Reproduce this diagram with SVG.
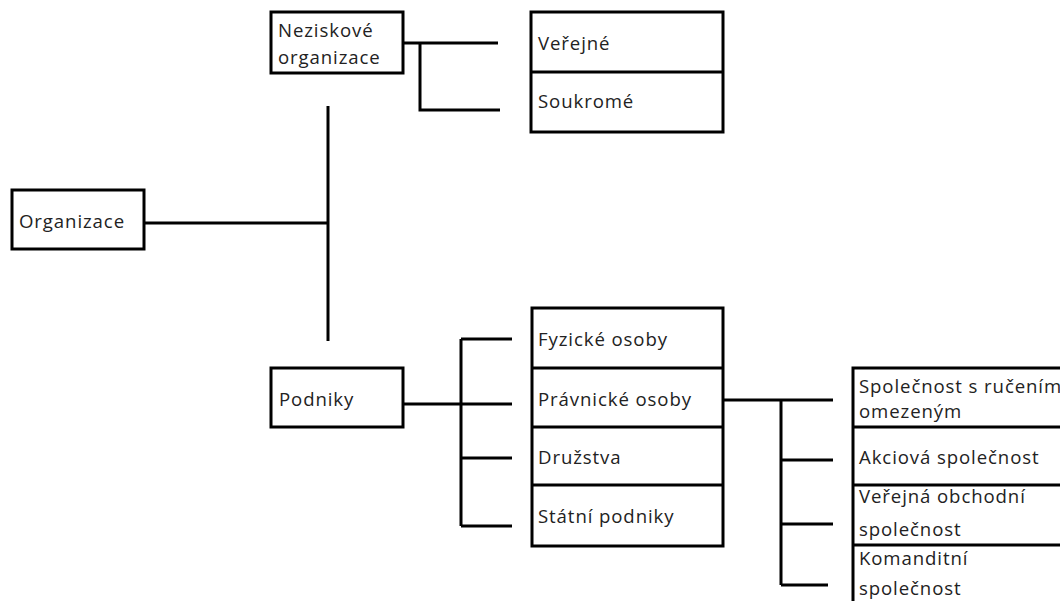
<svg xmlns="http://www.w3.org/2000/svg" width="1060" height="601" viewBox="0 0 1060 601">
<style>
.box{fill:#fff;stroke:#000;stroke-width:3}
.div{stroke:#000;stroke-width:3}
.t{font-family:"Open Sans","Liberation Sans",sans-serif;font-size:18.6px;letter-spacing:0.9px;fill:#222}
.c{fill:none;stroke:#000;stroke-width:3}
</style>
<rect width="1060" height="601" fill="#fff"/>
<g id="connectors">
<path class="c" d="M403,43H498M420,43V110H500"/>
<path class="c" d="M328,106V341M144,223H328"/>
<path class="c" d="M403,404H512M461,339V526M461,339H512M461,458H512M461,526H512"/>
<path class="c" d="M723,400H833M781,400V585M781,460H833M781,524H833M781,585H828"/>
</g>
<g id="organizace">
<rect class="box" x="12" y="190" width="132" height="59"/>
<text class="t" x="19" y="228">Organizace</text>
</g>
<g id="neziskove">
<rect class="box" x="271" y="12" width="132" height="61"/>
<text class="t" x="278" y="37">Neziskové</text>
<text class="t" x="278" y="64">organizace</text>
</g>
<g id="verejne-soukrome">
<rect class="box" x="531" y="12" width="192" height="120"/>
<line class="div" x1="531" y1="72" x2="723" y2="72"/>
<text class="t" x="538" y="50">Veřejné</text>
<text class="t" x="538" y="108">Soukromé</text>
</g>
<g id="podniky">
<rect class="box" x="271" y="368" width="132" height="59"/>
<text class="t" x="279" y="406">Podniky</text>
</g>
<g id="typy-podniku">
<rect class="box" x="532" y="308" width="191" height="238"/>
<line class="div" x1="532" y1="368" x2="723" y2="368"/>
<line class="div" x1="532" y1="427" x2="723" y2="427"/>
<line class="div" x1="532" y1="485" x2="723" y2="485"/>
<text class="t" x="538" y="346">Fyzické osoby</text>
<text class="t" x="538" y="406">Právnické osoby</text>
<text class="t" x="538" y="464">Družstva</text>
<text class="t" x="538" y="523">Státní podniky</text>
</g>
<g id="pravnicke-osoby">
<rect class="box" x="853" y="368" width="220" height="250"/>
<line class="div" x1="853" y1="427" x2="1073" y2="427"/>
<line class="div" x1="853" y1="485" x2="1073" y2="485"/>
<line class="div" x1="853" y1="545" x2="1073" y2="545"/>
<text class="t" x="859" y="393">Společnost s ručením</text>
<text class="t" x="859" y="418">omezeným</text>
<text class="t" x="859" y="464">Akciová společnost</text>
<text class="t" x="859" y="503">Veřejná obchodní</text>
<text class="t" x="859" y="536">společnost</text>
<text class="t" x="859" y="565">Komanditní</text>
<text class="t" x="859" y="595">společnost</text>
</g>
</svg>
